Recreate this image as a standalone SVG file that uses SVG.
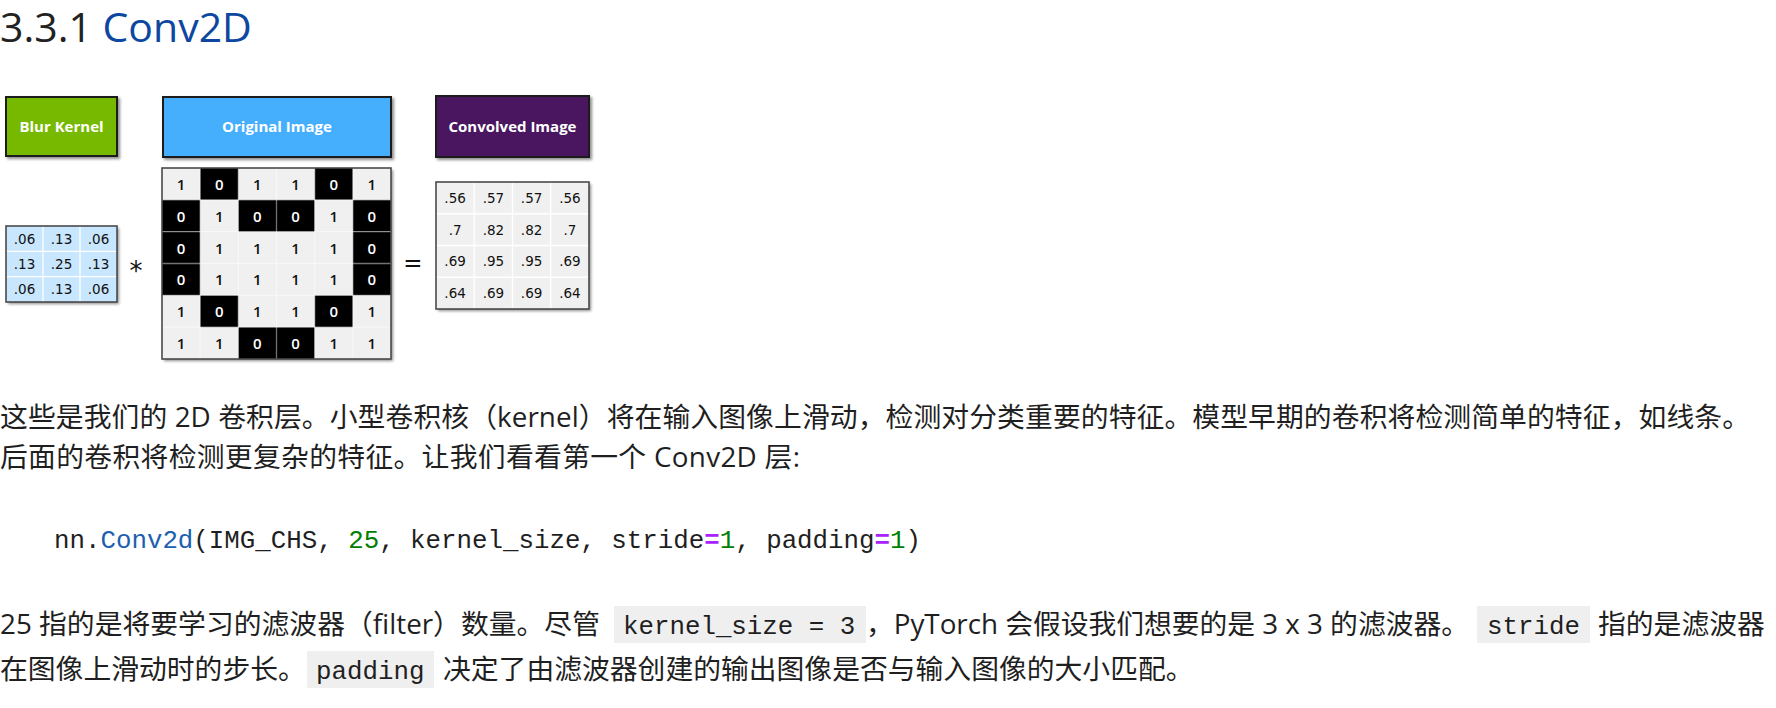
<svg xmlns="http://www.w3.org/2000/svg" width="1776" height="708" viewBox="0 0 1776 708">
<defs>
<filter id="shadow" x="-10%" y="-10%" width="130%" height="140%">
<feDropShadow dx="2" dy="2" stdDeviation="1.4" flood-color="#000" flood-opacity="0.45"/>
</filter>
<style>
.hdr{stroke:#1c1c1c;stroke-width:2;filter:url(#shadow)}
.hdrt{font-family:"Open Sans","DejaVu Sans",sans-serif;font-weight:700;font-size:15px;fill:#fff;text-anchor:middle}
.frame{fill:none;stroke:#4a4a4a;stroke-width:1.6}
.gl{stroke:#fff;stroke-width:1.3}
.glo{stroke:#fff;stroke-opacity:0.45;stroke-width:1.3}
.num{font-family:"DejaVu Sans",sans-serif;font-size:13.5px;text-anchor:middle;dominant-baseline:central;fill:#111}
.bnum{font-family:"Open Sans","DejaVu Sans",sans-serif;font-size:15px;font-weight:600;text-anchor:middle;dominant-baseline:central}
.op{font-family:"DejaVu Sans",sans-serif;fill:#111;text-anchor:middle}
.p{font-family:"Open Sans","Noto Sans CJK SC",sans-serif;font-size:27.8px;fill:#1f1f1f}
.c{font-family:"Liberation Mono","DejaVu Sans Mono",monospace;font-size:25.8px;fill:#1f1f1f}
.ic{fill:#efefef}
</style>
</defs>
<rect width="1776" height="708" fill="#fff"/>

<g id="title">
<text x="0" y="42" font-family="Open Sans,sans-serif" font-size="41" fill="#222">3.3.1 <tspan fill="#0d47a1">Conv2D</tspan></text>
</g>

<g id="blur-kernel-label">
<rect class="hdr" x="6" y="97" width="111" height="59" fill="#76b900"/>
<text class="hdrt" x="61.5" y="131.5">Blur Kernel</text>
</g>

<g id="original-image-label">
<rect class="hdr" x="163" y="97" width="228" height="60" fill="#45affd"/>
<text class="hdrt" x="277" y="132">Original Image</text>
</g>

<g id="convolved-image-label">
<rect class="hdr" x="436" y="96" width="153" height="61" fill="#4a125e"/>
<text class="hdrt" x="512.5" y="131.5">Convolved Image</text>
</g>

<g id="blur-kernel-matrix">
<rect x="6" y="226" width="111" height="76" fill="#c8e6fe" filter="url(#shadow)"/>
<line class="gl" x1="43" y1="226" x2="43" y2="302"/>
<line class="gl" x1="80" y1="226" x2="80" y2="302"/>
<line class="gl" x1="6" y1="251.33" x2="117" y2="251.33"/>
<line class="gl" x1="6" y1="276.67" x2="117" y2="276.67"/>
<rect class="frame" x="6" y="226" width="111" height="76"/>
<text class="num" x="24.5" y="238.7">.06</text><text class="num" x="61.5" y="238.7">.13</text><text class="num" x="98.5" y="238.7">.06</text>
<text class="num" x="24.5" y="264">.13</text><text class="num" x="61.5" y="264">.25</text><text class="num" x="98.5" y="264">.13</text>
<text class="num" x="24.5" y="289.3">.06</text><text class="num" x="61.5" y="289.3">.13</text><text class="num" x="98.5" y="289.3">.06</text>
</g>

<g id="original-image-matrix">
<rect x="162" y="168" width="229" height="191" fill="#f0f0f0" filter="url(#shadow)"/>
<g fill="#000">
<rect x="200.17" y="168" width="38.17" height="31.83"/>
<rect x="314.67" y="168" width="38.17" height="31.83"/>
<rect x="162" y="199.83" width="38.17" height="31.83"/>
<rect x="238.33" y="199.83" width="76.34" height="31.83"/>
<rect x="352.83" y="199.83" width="38.17" height="31.83"/>
<rect x="162" y="231.67" width="38.17" height="63.66"/>
<rect x="352.83" y="231.67" width="38.17" height="63.66"/>
<rect x="200.17" y="295.33" width="38.17" height="31.84"/>
<rect x="314.67" y="295.33" width="38.17" height="31.84"/>
<rect x="238.33" y="327.17" width="76.34" height="31.83"/>
</g>
<g class="glo">
<line x1="200.17" y1="168" x2="200.17" y2="359"/>
<line x1="238.33" y1="168" x2="238.33" y2="359"/>
<line x1="276.5" y1="168" x2="276.5" y2="359"/>
<line x1="314.67" y1="168" x2="314.67" y2="359"/>
<line x1="352.83" y1="168" x2="352.83" y2="359"/>
<line x1="162" y1="199.83" x2="391" y2="199.83"/>
<line x1="162" y1="231.67" x2="391" y2="231.67"/>
<line x1="162" y1="263.5" x2="391" y2="263.5"/>
<line x1="162" y1="295.33" x2="391" y2="295.33"/>
<line x1="162" y1="327.17" x2="391" y2="327.17"/>
</g>
<rect class="frame" x="162" y="168" width="229" height="191"/>
<g class="bnum">
<text x="181.1" y="183.9" fill="#111">1</text><text x="219.3" y="183.9" fill="#fff">0</text><text x="257.4" y="183.9" fill="#111">1</text><text x="295.6" y="183.9" fill="#111">1</text><text x="333.8" y="183.9" fill="#fff">0</text><text x="371.9" y="183.9" fill="#111">1</text>
<text x="181.1" y="215.8" fill="#fff">0</text><text x="219.3" y="215.8" fill="#111">1</text><text x="257.4" y="215.8" fill="#fff">0</text><text x="295.6" y="215.8" fill="#fff">0</text><text x="333.8" y="215.8" fill="#111">1</text><text x="371.9" y="215.8" fill="#fff">0</text>
<text x="181.1" y="247.6" fill="#fff">0</text><text x="219.3" y="247.6" fill="#111">1</text><text x="257.4" y="247.6" fill="#111">1</text><text x="295.6" y="247.6" fill="#111">1</text><text x="333.8" y="247.6" fill="#111">1</text><text x="371.9" y="247.6" fill="#fff">0</text>
<text x="181.1" y="279.4" fill="#fff">0</text><text x="219.3" y="279.4" fill="#111">1</text><text x="257.4" y="279.4" fill="#111">1</text><text x="295.6" y="279.4" fill="#111">1</text><text x="333.8" y="279.4" fill="#111">1</text><text x="371.9" y="279.4" fill="#fff">0</text>
<text x="181.1" y="311.3" fill="#111">1</text><text x="219.3" y="311.3" fill="#fff">0</text><text x="257.4" y="311.3" fill="#111">1</text><text x="295.6" y="311.3" fill="#111">1</text><text x="333.8" y="311.3" fill="#fff">0</text><text x="371.9" y="311.3" fill="#111">1</text>
<text x="181.1" y="343.1" fill="#111">1</text><text x="219.3" y="343.1" fill="#111">1</text><text x="257.4" y="343.1" fill="#fff">0</text><text x="295.6" y="343.1" fill="#fff">0</text><text x="333.8" y="343.1" fill="#111">1</text><text x="371.9" y="343.1" fill="#111">1</text>
</g>
</g>

<g id="convolved-image-matrix">
<rect x="436" y="182" width="153" height="127" fill="#f0f0f0" filter="url(#shadow)"/>
<line class="gl" x1="474.25" y1="182" x2="474.25" y2="309"/>
<line class="gl" x1="512.5" y1="182" x2="512.5" y2="309"/>
<line class="gl" x1="550.75" y1="182" x2="550.75" y2="309"/>
<line class="gl" x1="436" y1="213.75" x2="589" y2="213.75"/>
<line class="gl" x1="436" y1="245.5" x2="589" y2="245.5"/>
<line class="gl" x1="436" y1="277.25" x2="589" y2="277.25"/>
<rect class="frame" x="436" y="182" width="153" height="127"/>
<text class="num" x="455.1" y="197.9">.56</text><text class="num" x="493.4" y="197.9">.57</text><text class="num" x="531.6" y="197.9">.57</text><text class="num" x="569.9" y="197.9">.56</text>
<text class="num" x="455.1" y="229.6">.7</text><text class="num" x="493.4" y="229.6">.82</text><text class="num" x="531.6" y="229.6">.82</text><text class="num" x="569.9" y="229.6">.7</text>
<text class="num" x="455.1" y="261.4">.69</text><text class="num" x="493.4" y="261.4">.95</text><text class="num" x="531.6" y="261.4">.95</text><text class="num" x="569.9" y="261.4">.69</text>
<text class="num" x="455.1" y="293.1">.64</text><text class="num" x="493.4" y="293.1">.69</text><text class="num" x="531.6" y="293.1">.69</text><text class="num" x="569.9" y="293.1">.64</text>
</g>

<g id="operators">
<text class="op" x="136" y="280" font-size="26">*</text>
<text class="op" x="413" y="271" font-size="23">=</text>
</g>

<g id="paragraph-1">
<text class="p" x="0" y="427" textLength="1750" lengthAdjust="spacing">这些是我们的 2D 卷积层。小型卷积核（kernel）将在输入图像上滑动，检测对分类重要的特征。模型早期的卷积将检测简单的特征，如线条。</text>
<text class="p" x="0" y="467" textLength="800" lengthAdjust="spacing">后面的卷积将检测更复杂的特征。让我们看看第一个 Conv2D 层:</text>
</g>

<g id="code-block">
<text class="c" x="54" y="548">nn.<tspan fill="#1c5fb0">Conv2d</tspan>(IMG_CHS, <tspan fill="#008000">25</tspan>, kernel_size, stride<tspan fill="#aa22ff" font-weight="700">=</tspan><tspan fill="#008000">1</tspan>, padding<tspan fill="#aa22ff" font-weight="700">=</tspan><tspan fill="#008000">1</tspan>)</text>
</g>

<g id="paragraph-2">
<rect class="ic" x="614" y="606" width="252" height="37"/>
<rect class="ic" x="1477" y="606" width="113" height="37"/>
<rect class="ic" x="307" y="651" width="127" height="37"/>
<text class="p" x="0" y="634" textLength="600" lengthAdjust="spacing">25 指的是将要学习的滤波器（filter）数量。尽管</text>
<text class="c" x="623" y="634">kernel_size = 3</text>
<text class="p" x="866" y="634" textLength="603" lengthAdjust="spacing">，PyTorch 会假设我们想要的是 3 x 3 的滤波器。</text>
<text class="c" x="1487" y="634">stride</text>
<text class="p" x="1598" y="634">指的是滤波器</text>
<text class="p" x="0" y="679">在图像上滑动时的步长。</text>
<text class="c" x="316" y="679">padding</text>
<text class="p" x="443" y="679">决定了由滤波器创建的输出图像是否与输入图像的大小匹配。</text>
</g>
</svg>
